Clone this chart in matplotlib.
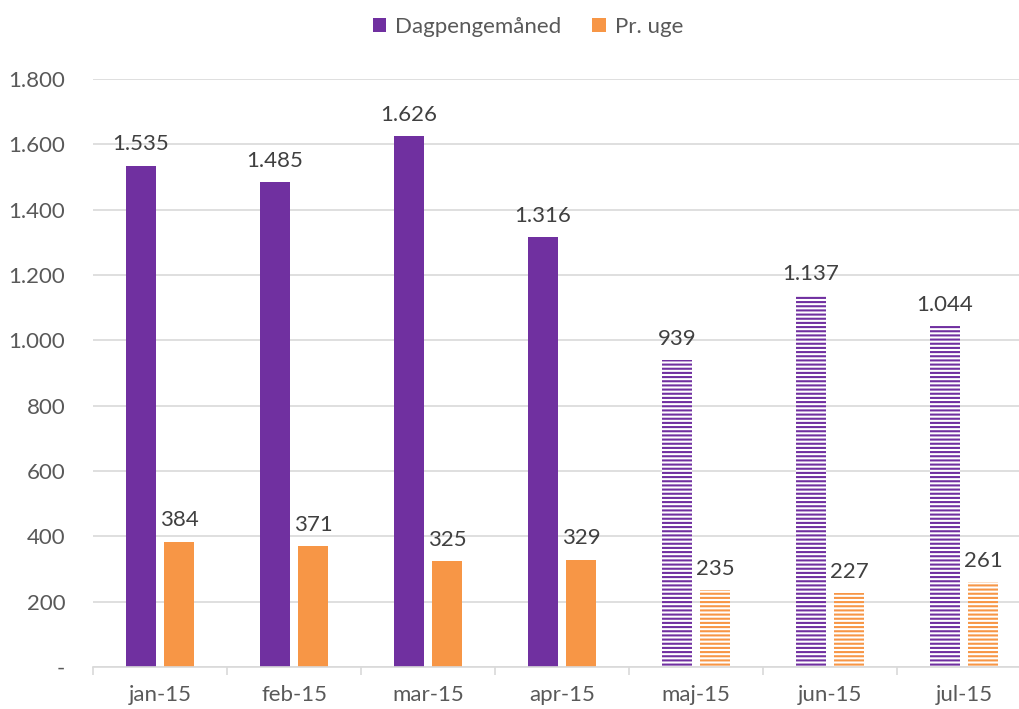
import numpy as np
import matplotlib
matplotlib.use("Agg")
import matplotlib.pyplot as plt
from matplotlib.patches import Patch

plt.rcParams['font.family'] = ['Lato', 'DejaVu Sans']
plt.rcParams['hatch.linewidth'] = 1.5

months = ['jan-15', 'feb-15', 'mar-15', 'apr-15', 'maj-15', 'jun-15', 'jul-15']
dagpenge = [1535, 1485, 1626, 1316, 939, 1137, 1044]
pr_uge = [384, 371, 325, 329, 235, 227, 261]
hatched = [False, False, False, False, True, True, True]

PURPLE = '#7030A0'
ORANGE = '#F79646'
TXT = '#404040'

def fmt(v):
    return f"{v:,}".replace(',', '.')

fig = plt.figure(figsize=(10.19, 7.09), dpi=100)
# plot area runs a bit past the right edge, like the original
ax = fig.add_axes([93 / 1019, 1 - 667 / 709, 938 / 1019, 588 / 709])

x = np.arange(len(months))
w = 0.225
off = 0.143

for i in range(len(months)):
    for val, dx, col in ((dagpenge[i], -off, PURPLE), (pr_uge[i], off, ORANGE)):
        if hatched[i]:
            ax.bar(x[i] + dx, val, w, color='white', edgecolor=col, hatch='----', linewidth=0)
        else:
            ax.bar(x[i] + dx, val, w, color=col, linewidth=0)
        ax.annotate(fmt(val), (x[i] + dx, val), xytext=(0, 8), textcoords='offset points',
                    ha='center', va='bottom', fontsize=16, color=TXT)

ax.set_xlim(-0.5, len(months) - 0.5)
ax.set_ylim(0, 1800)
ax.set_yticks(range(0, 1801, 200))
ax.set_yticklabels(['-'] + [fmt(v) for v in range(200, 1801, 200)])
ax.yaxis.grid(True, color='#d9d9d9', linewidth=1.2)
ax.set_axisbelow(True)

ax.set_xticks(x)
ax.set_xticklabels(months)
ax.set_xticks(np.arange(-0.5, len(months), 1), minor=True)
ax.tick_params(axis='x', which='major', length=0, pad=13, labelsize=16, labelcolor='#595959')
ax.tick_params(axis='x', which='minor', length=6, color='#d9d9d9', width=1.2)
ax.tick_params(axis='y', length=0, pad=20, labelsize=16, labelcolor='#595959')

for s in ['left', 'right', 'top']:
    ax.spines[s].set_visible(False)
ax.spines['bottom'].set_color('#d9d9d9')
ax.spines['bottom'].set_linewidth(1.2)

handles = [Patch(facecolor=PURPLE, label='Dagpengemåned'),
           Patch(facecolor=ORANGE, label='Pr. uge')]
fig.legend(handles=handles, loc='center', bbox_to_anchor=(528 / 1019, 1 - 27 / 709), ncol=2,
           frameon=False, fontsize=16, handlelength=0.6, handleheight=0.6,
           handletextpad=0.4, columnspacing=1.4, labelcolor='#595959')

fig.savefig('out.png', dpi=100)
